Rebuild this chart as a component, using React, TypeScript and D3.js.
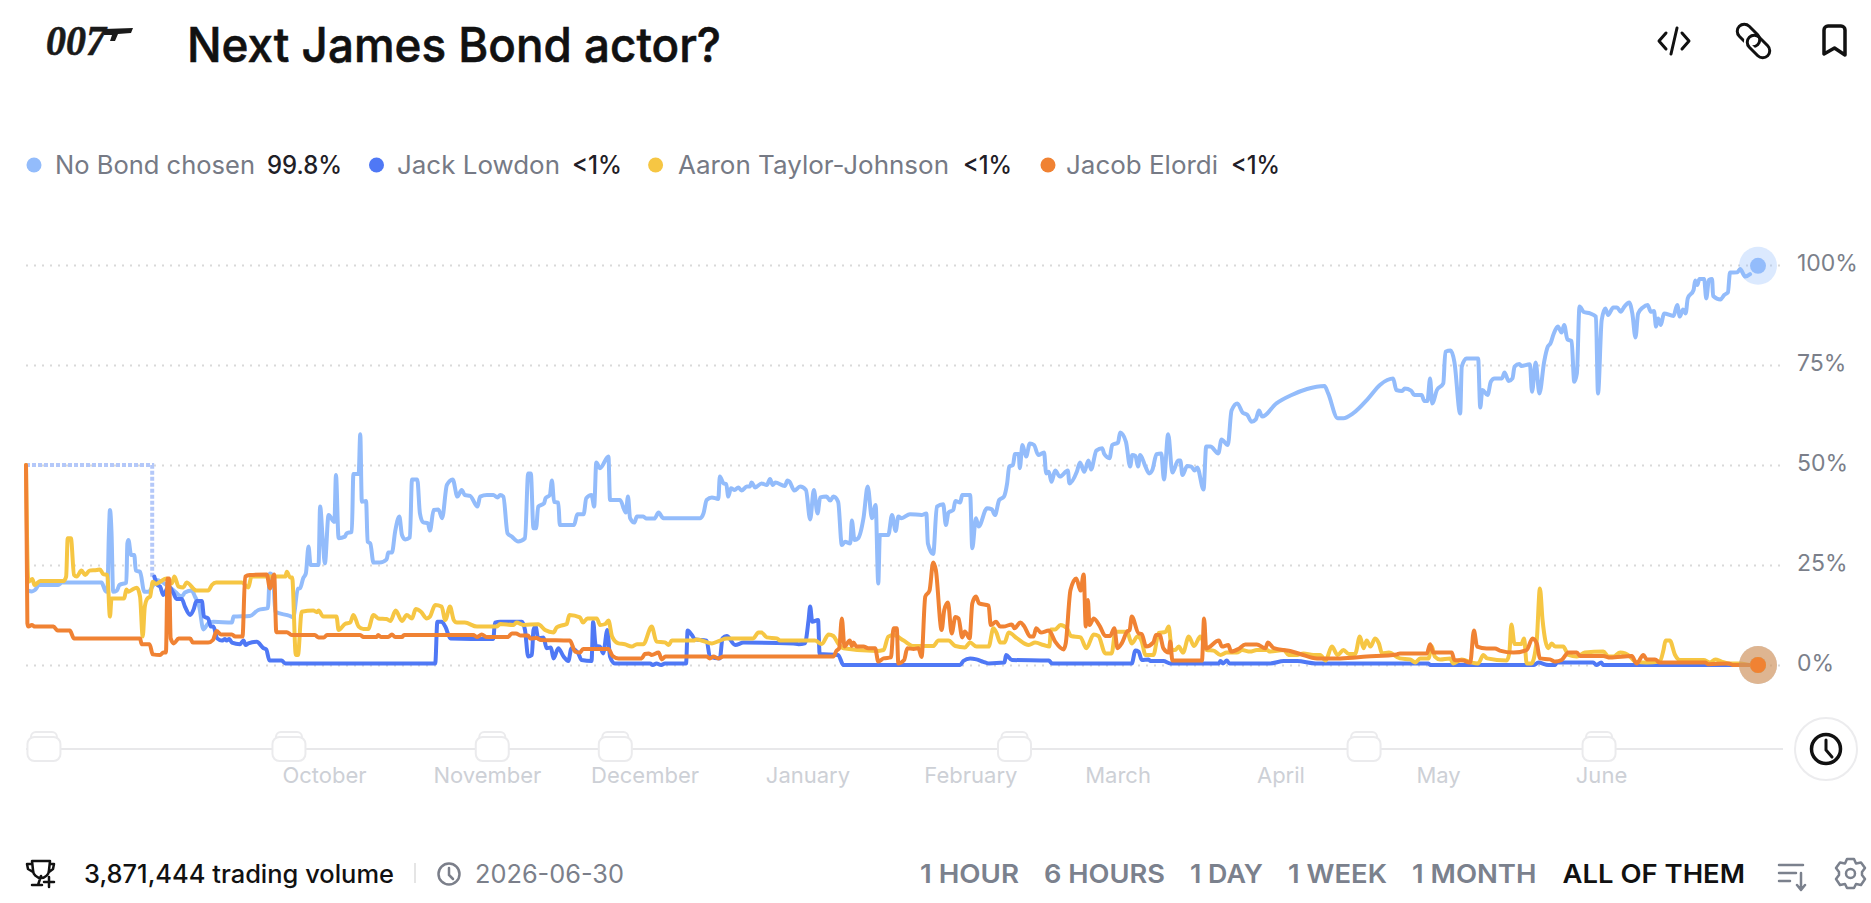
import React, { useEffect, useRef } from 'react';
import * as d3 from 'd3';

const width = 1871;
const height = 903;
const margin = { left: 26, right: 113, top: 265, bottom: 238 };

// [days since 2025-08-06, percent]
const noBondChosen = [
  [0.4, 18.6], [1.1, 18.4], [1.7, 18.75], [2.5, 20], [6.1, 20], [6.8, 20.6], [14.3, 20.6], [15, 18.6], [15.4, 18.3], [15.7, 32.9], [15.9, 38.75], [16.2, 32.9], [16.5, 18.3], [17.2, 18.6], [17.7, 20], [19, 20.6], [19.2, 30.4], [19.4, 31.25], [19.9, 27.5], [20.5, 27.5], [20.8, 23.6], [21.6, 23.3], [22.4, 18.3], [23.2, 18.3], [24.1, 20], [24.8, 21.25], [25.7, 20.8], [26.6, 20], [27.9, 18.75], [29.5, 17.1], [30.1, 18.1], [31.4, 18.6], [32, 17.1], [32.8, 14.6], [33.6, 8.9], [34.5, 10.4], [35.5, 10.8], [39, 10.6], [39.3, 12.1], [42.4, 12.25], [44, 13.75], [45.8, 14.2], [46.2, 22.9], [46.8, 22.1], [47.2, 13.3], [50, 12.25], [50.6, 11.9], [51.5, 19.1], [51.9, 19.2], [52.5, 21.7], [53, 22.9], [53.5, 29.6], [53.9, 25], [55.4, 25], [55.7, 39.6], [56.2, 31.25], [56.6, 25.4], [57.3, 37.5], [58.4, 35.8], [58.7, 47.5], [59.2, 31.7], [60.4, 32.1], [60.7, 32.9], [61.7, 33.3], [62, 47.75], [63, 47.75], [63.3, 57.7], [63.6, 40.8], [64.4, 41], [64.7, 30.8], [65.2, 30.4], [65.8, 25.6], [67, 25.6], [68.3, 26.4], [68.6, 28.1], [69.3, 28.1], [69.9, 33.3], [70.7, 37.1], [71.2, 32.5], [71.8, 31.4], [72.7, 31.9], [73.1, 46.4], [74.1, 46.4], [74.6, 37.9], [75.2, 35.7], [76.1, 35.4], [76.5, 33.6], [77.2, 38.75], [78.1, 38.9], [78.8, 36.7], [79.7, 45], [80.8, 46.4], [81.7, 42.1], [82.5, 43.75], [83.1, 42.5], [84.1, 42.3], [85.5, 39.6], [86, 42.1], [87.3, 42.5], [88.5, 42.5], [89.3, 41.9],
  [89.8, 42.5], [90.4, 42.1], [91.2, 32.9], [92, 32.1], [93.2, 30.9], [94.5, 31.7], [95.1, 47.9], [95.6, 47.9], [96.1, 34.2], [96.6, 34.2], [97, 39.6], [98.1, 40.4], [98.4, 41.7], [99.2, 42.5], [99.6, 46.1], [100, 40.8], [100.8, 40.6], [101.1, 35], [103.8, 35], [104.4, 37.7], [105.6, 37.7], [106.1, 41.7], [107.1, 42.5], [107.6, 39.6], [108, 50.6], [108.7, 49.2], [110.3, 52.1], [110.6, 41.25], [112.5, 41.25], [113.6, 38.1], [114, 42.1], [114.4, 36.7], [115.2, 35.6], [115.7, 37.1], [116.9, 37.1], [117.5, 36.6], [119, 36.6], [119.8, 38.1], [120.7, 36.7], [127.7, 36.7], [128.3, 37.9], [128.9, 41.25], [129.9, 41.9], [131.1, 41.5], [131.4, 47.1], [132.1, 45.4], [132.6, 45.25], [133, 42.1], [133.5, 44.2], [134.2, 43.75], [134.9, 44.4], [135.5, 43.6], [136.5, 44.6], [137.1, 44.6], [137.4, 45.6], [138.1, 44.4], [139.3, 45.4], [140.3, 45], [140.9, 46.5], [141.4, 45], [141.9, 45.6], [143.7, 44.75], [144.2, 46.1], [144.6, 45.8], [145.5, 43.6], [146.6, 44.6], [147.7, 43.75], [148.5, 36.4], [149.2, 43.75], [149.9, 37.9], [150.4, 41.9], [151.6, 42.1], [152.3, 41.1], [152.9, 42.1], [153.8, 40.8], [154.5, 30], [155.1, 30.8], [156.1, 30.4], [156.4, 36.1], [156.9, 31.25], [157.6, 31.7], [158.6, 36.7], [159.4, 44.6], [160.2, 36.7], [160.9, 40], [161.4, 20.4], [161.7, 32.5], [163.3, 32.5], [164, 37.5], [164.7, 33.5], [165.2, 37.1], [165.8, 36.7], [167.4, 37.7], [169.6, 37.5], [170.5, 37.9], [170.8, 30.4], [171.8, 27.75], [172.5, 39.6], [173.7, 40.2], [174.2, 35], [174.7, 38.1], [175.6, 38.75], [176, 41], [176.9, 40.6], [177.3, 42.5], [178.8, 42.5], [179.2, 29.2], [179.9, 36.7], [180.4, 34.6], [182, 39.2], [182.9, 38.9], [183.5, 37.5], [184.3, 41.25],
  [185.2, 42.1], [185.8, 45.4], [186.2, 49.6], [186.9, 50], [187.3, 52.75], [188, 52.75], [188.2, 49.2], [188.7, 55], [189.4, 52.1], [190.1, 55.4], [190.9, 55], [191.7, 52.5], [192.8, 53.1], [193.2, 47.9], [193.7, 48.3], [194.2, 45.8], [194.9, 48.6], [195.8, 47.1], [197.3, 48.6], [197.6, 45.4], [199, 48.3], [199.6, 50.6], [200.4, 48.3], [201.2, 51.1], [201.7, 48.9], [202.7, 53.6], [203.8, 54.2], [204.2, 52.75], [205.2, 51.7], [205.7, 55], [206.8, 55.6], [207.2, 58.1], [208.3, 55.8], [209.1, 49.6], [209.5, 52.5], [210.1, 52.25], [210.6, 49.6], [211, 52.5], [212, 49.6], [212.7, 47.9], [213.3, 48.75], [214.1, 52.7], [215, 52.9], [215.5, 46.4], [216.3, 57.7], [217.1, 48.1], [218.2, 51.1], [218.6, 51.1], [219, 47.5], [219.9, 49.75], [220.7, 49.6], [221.3, 48.6], [221.8, 49.4], [223, 43.9], [223.5, 54.6], [224.3, 54.6], [225.8, 52.9], [226.4, 56.4], [227.6, 55], [228.3, 63.6], [229.4, 65.4], [230.4, 63.1], [231.3, 62.5], [232.1, 60.8], [232.9, 61.4], [233.5, 63.6], [234.1, 62.1],
  [236.8, 65.4], [239.7, 67.5], [242.6, 69], [245.9, 69.75], [246.6, 67.9], [248.4, 61.7], [249.5, 61.7], [251.3, 62.9], [254.2, 66.65], [256.4, 70], [257.8, 71.25], [258.9, 71.65], [259.5, 68.75], [260.6, 68.5], [261.1, 69.1], [262.3, 68.6], [262.9, 67.5], [264.3, 67.5], [264.8, 66], [265.4, 66], [265.9, 71.65], [266.3, 65.4], [267.2, 68.75], [268.4, 70.4], [268.8, 78.3], [269.8, 78.6], [270.5, 75.8], [271.6, 62.9], [271.9, 74.6], [272.8, 76.65], [275, 76.65], [275.4, 64.4], [275.8, 68.75], [276.8, 67.5], [277.4, 70.8], [278.1, 71.65], [279.5, 71.65], [280, 73.1], [280.8, 71], [281.5, 71.65], [281.9, 74.6], [282.8, 75.25], [283.2, 74.75], [284.8, 75.2], [285.2, 68.3], [285.9, 75.6], [286.6, 67.9], [287.5, 75.8], [288.2, 79.6], [288.7, 80.4], [289.3, 82.75], [290.1, 84.6], [290.8, 83.1], [291.3, 85], [291.9, 81.4], [292.7, 81], [293.2, 70.8], [293.7, 72.9], [294.2, 89.6], [295, 88.25], [296.2, 87.9], [297.3, 87.1], [297.7, 67.9], [298.4, 86.25], [299.1, 89.15], [299.6, 87.5], [300.6, 89.4], [301.3, 89.4], [302, 88.3], [302.7, 89.6], [303.6, 90.6], [304.2, 87.9], [304.8, 81.9], [305.3, 87.9], [306.2, 89.4], [307.1, 90], [307.7, 88.3], [308.3, 88.5], [308.7, 84.6], [309.1, 86.65], [309.6, 85], [310.2, 87.9], [312, 87.25], [312.7, 90], [313.2, 87.1], [313.8, 88.9], [314.3, 87.9], [314.7, 91.65], [315.8, 93.75], [316.1, 96.1], [316.5, 95], [316.9, 96.5], [317.8, 96.5], [318.2, 91.65], [318.7, 96.25], [319.3, 96.5], [319.5, 92.25], [320.9, 91.4], [321.6, 92.5], [322.3, 93.15], [322.7, 98.1], [324.1, 98.2], [324.6, 99], [325.6, 97.1], [326.5, 97.7],
];

const jackLowdon = [
  [24.3, 22.1], [24.9, 20], [25.4, 19.6], [26, 17.5], [27, 19.6], [27.9, 18], [28.5, 16.5], [29.5, 16.5], [30.1, 14.6], [31.1, 12.5], [31.7, 13.75], [32.3, 16], [33.3, 16], [33.7, 12.1], [34.5, 11.65], [35, 9.6], [35.5, 9.6], [36.2, 6.65], [37.1, 6.1], [37.7, 6.5], [38, 6.1], [38.5, 6.5], [39, 5.6], [40.5, 5.2], [41.2, 6.1], [41.6, 5], [42.1, 5.4], [43.7, 5.8], [45, 4.2], [45.5, 3.9], [46.1, 1.1], [48.4, 1.1], [49.1, 0.4], [77.5, 0.4], [77.9, 10.8], [78.7, 10.8], [79.4, 9.6], [80.4, 6.65], [88.5, 6.5], [88.8, 10.6], [89.8, 10.8],
  [93.9, 10.8], [94.5, 8.75], [95.1, 2.1], [95.8, 2.5], [96.1, 8.75], [96.5, 9.6], [97, 6.65], [98, 6.9], [98.6, 4.2], [99.4, 4.4], [99.9, 1.65], [100.8, 4.2], [101.8, 2.1], [102.7, 1], [103.3, 4.2], [104, 3.75], [104.6, 2.9], [105.2, 1.25], [107.1, 1], [107.4, 10.8], [107.9, 4.8], [108.7, 4.6], [109.3, 2.9], [110.1, 8.75], [110.6, 2.1], [111.5, 0.4], [118.2, 0.4], [118.7, 0], [119.4, 0.4], [120.3, 0], [121, 0.4], [125, 0.4], [125.3, 8.6], [126.1, 7.5], [126.7, 6.4], [128.9, 6.1], [129.5, 2.1], [131.4, 1.65], [131.9, 6.65], [132.7, 7.25], [134.3, 5], [135.9, 5.6], [145.3, 5.4], [146.3, 5.2], [147.5, 5.4], [148.2, 11.25], [148.5, 14.6], [148.9, 10.8], [150, 11.25], [150.3, 2.75], [153.8, 2.5], [154.8, 0], [176.9, 0], [177.5, 1], [178.8, 1.65], [180, 1.4], [181.3, 0.8], [182.3, 0.4],
  [185.3, 0.6], [185.6, 2.5], [186.7, 1.25], [193.7, 1.1], [194.3, 0.4], [209.4, 0.4], [210.1, 3.6], [210.7, 3.35], [211.3, 1.25], [212.6, 1.4], [212.9, 1], [215.4, 1], [216.7, 0.4], [225.9, 0.4], [226.2, 1], [226.7, 0.4], [227.4, 1.1], [227.9, 0.4], [235.6, 0.4], [238.2, 1], [240.7, 1], [244.2, 0.4], [265.6, 0.4], [265.9, 0], [285.5, 0], [286.4, 0.6], [288.3, 0], [289.6, 0], [289.9, 0.6], [296.8, 0.6], [297.4, 0], [298.3, 0.6], [298.7, 0], [328, 0],
];

const aaronTaylorJohnson = [
  [0, 50], [0.45, 20.8], [1.2, 21.5], [1.6, 20], [2.7, 21], [7.1, 21], [7.6, 22.1], [7.9, 31.7], [8.5, 31.7], [9.1, 22.5], [9.6, 22.1], [10.5, 23.6], [11.2, 22.5], [12, 23.6], [13.4, 23.75], [14, 23.9], [14.6, 22.75], [15.4, 22.5], [15.9, 12.1], [16.2, 16.65], [18.6, 16.65], [19, 18.9], [19.4, 18.3], [20, 18.75], [21, 19.3], [21.6, 17.1], [22.1, 7.1], [22.5, 14.6], [23, 16.65], [23.5, 17.1], [24, 20.8], [24.6, 20.25], [25.4, 20.8], [26.6, 21.65], [27.6, 20.4], [28.1, 22.1], [28.9, 19.6], [29.8, 19.4], [30.4, 20.6], [32.3, 18.6], [34.5, 18.6], [35.2, 20], [36, 20.6], [40.9, 20.6], [42.1, 19.4], [42.7, 22.1], [49.1, 22.1], [49.4, 23.3], [50, 21.9], [50.4, 21.9], [51.1, 2.5], [51.5, 2.5], [52.2, 13.3], [54.4, 13.6], [55.1, 13.2], [55.4, 13.6], [56.3, 12.1], [58.8, 12.1], [59.2, 8.75], [60.4, 10.25], [61.4, 10.6], [62, 12.5], [63, 9.6], [63.9, 9], [64.8, 9], [65.8, 12.5], [66.7, 11.65], [68.3, 11.5], [69, 11], [70, 13.6], [71.2, 11], [72.1, 12.5], [73.1, 11.65], [73.8, 14], [74.8, 13.3], [75.9, 11.65], [76.5, 12.1], [77.5, 15], [78.7, 14.6], [79.4, 11.25], [80.3, 14.6], [81, 11.25], [81.6, 10.6], [83.1, 10.6], [85.4, 9.6], [89.1, 9.6],
  [89.8, 10.25], [92.3, 10], [92.9, 10.6], [94.2, 10], [97, 10.2], [98.3, 8.75], [99.9, 8.15], [100.5, 9.4], [101.8, 10], [102.4, 10.25], [102.9, 12.5], [104.9, 11.9], [105.5, 10.6], [106.3, 11.65], [108.1, 11.65], [108.7, 10], [109.7, 10.25], [110.3, 11.1], [111, 7.1], [112.2, 5.4], [113.4, 5.2], [114.7, 4.6], [115.7, 5.2], [116.9, 5.2], [118.5, 9.6], [119.4, 5.85], [121, 5.65], [121.7, 5], [122.3, 6.1], [126.4, 6.1], [127, 6.4], [129.9, 5.4], [131.4, 6.1], [132.7, 6.65], [137.7, 6.65], [138.7, 8.1], [139.3, 8.1], [140.3, 6.9], [142.2, 6.65], [142.8, 6.1], [149.4, 6.1], [150.7, 5.25], [152, 7.65], [152.9, 7.25], [153.8, 5.4], [154.8, 4.2], [161.1, 3.5], [162.4, 3.75], [163.3, 7.1], [164.3, 7.5], [166.2, 6.1], [168.1, 4.75], [171.8, 4.75], [172.8, 6.1], [174.7, 6.1], [176, 4.75], [177.8, 4.4], [178.8, 5.6], [180, 4.6], [182.3, 4.6], [183.2, 9.2], [183.8, 8],
  [184.5, 5.6], [185.3, 5.6], [186.1, 8.1], [187.7, 6.65], [189.9, 5], [191.1, 5.6], [192.7, 5], [193.8, 4.6], [194.1, 8.9], [194.9, 8.9], [195.9, 10], [197.1, 9.2], [197.9, 7.25], [199.7, 6.9], [200.8, 4.2], [202.2, 7.65], [203.1, 7.25], [204.4, 2.9], [205.6, 2.9], [206.3, 8.3], [208.5, 8.3], [209.4, 5.4], [210.5, 7.1], [211.3, 5.85], [212, 2.5], [213.5, 2.5], [214.5, 8], [215.8, 8.3], [216.4, 9.6], [217, 3.75], [217.6, 3.75], [218.3, 4.6], [219.1, 3.1], [220.2, 7.1], [221.2, 4.75], [222.4, 7.1], [223.6, 3.75], [224.9, 3.6], [226.2, 2.5], [227.4, 3.1], [229.3, 3.1], [230.3, 3.75], [231.8, 3.35], [233.1, 3.75], [235, 3.75], [235.6, 3.35], [238.2, 3.75], [239.1, 2.5], [240.7, 2.5], [241.9, 2.9], [243.8, 2.5], [245.1, 2.5], [246.1, 1.1], [247.3, 4.6], [248.4, 2.5], [249.5, 3.75], [250.5, 2.75], [251.7, 2.75], [252.6, 7.1], [253.3, 4.2], [253.9, 6.1], [254.6, 4.6], [255.5, 6.65], [256.2, 5.4], [256.8, 2.9], [258.1, 3.1], [260.2, 1.65],
  [262.1, 1.4], [263.1, 0.65], [264, 1.65], [265.6, 1.65], [266.2, 4.75], [266.8, 2.1], [267.8, 1.4], [269.7, 1.65], [270.3, 0.4], [271.9, 1.4], [273.8, 0.6], [275, 0.4], [276, 2.5], [276.7, 1.65], [280.4, 1.1], [280.9, 2.9], [281.3, 10.15], [281.9, 5.25], [283.2, 5.25], [283.7, 6.65], [284.2, 0.4], [285.1, 0.4], [286.1, 6.25], [286.7, 19.15], [287.2, 11.25], [288.3, 4.2], [288.9, 5.4], [289.6, 4.6], [291.1, 4.6], [292.1, 2.5], [293.7, 2.1], [295.2, 3.1], [298.7, 3.4], [299.7, 2.1], [300.6, 2.1], [301.9, 3.1], [303.8, 2.1], [304.7, 0.85], [306.9, 0.6], [309.4, 0.85], [310.1, 3.75], [310.5, 6.1], [311.3, 6.1], [312.3, 2.5], [313.2, 1.25], [317.7, 1.25], [318.9, 0.65], [319.9, 1.4], [321.1, 0.85], [322.4, 0.4], [324.6, 0.4], [326.5, 0], [328, 0],
];

const jacobElordi = [
  [0, 50], [0.26, 10.4], [0.45, 9.6], [1.1, 10], [1.7, 9.6], [5.2, 9.6], [6, 8.6], [8.3, 8.6], [9.1, 6.6], [21.6, 6.6], [21.9, 5.2], [23.4, 5.2], [24, 2.65], [25.4, 2.5], [26, 3.1], [26.5, 3.1], [26.8, 21.65], [27.1, 21.65], [27.4, 6.65], [28, 5.4], [28.9, 6.6], [31.1, 6.6], [31.6, 5.6], [34.5, 5.6], [35.4, 6.25], [36.1, 8.5], [36.9, 7.65], [39, 7.65], [39.6, 7.1], [41, 7.1], [41.5, 22.1], [42.4, 22.5], [45.6, 22.65], [46.2, 19.15], [47, 22.65], [47.4, 8.2], [49.4, 8.2], [50.3, 7.5], [54.7, 7.5], [55.4, 6.9], [56.4, 6.9], [57, 7.5], [63.3, 7.5], [63.9, 7], [66.4, 7], [66.7, 7.5], [67.2, 7], [68.6, 7], [69.3, 7.6], [69.9, 7], [71.2, 7], [71.6, 7.5], [84.7, 7.5], [85.4, 7], [86.3, 7.6], [87.3, 7],
  [91.3, 7], [92, 7.9], [92.8, 7.9], [93.6, 7.4], [95.1, 7.4], [95.5, 6.6], [96.7, 6.75], [97.5, 6.25], [103, 6.1], [104, 3.35], [104.9, 3.1], [105.5, 4], [110.3, 4], [111.1, 2.25], [112.2, 1.65], [116.6, 1.65], [117.2, 2.75], [117.9, 2.9], [118.5, 2.5], [119.8, 3.1], [120.4, 1.4], [121.1, 2.1], [128.9, 2.1], [129.5, 1.65], [130.2, 2.1], [131.1, 1.65], [132.1, 2.1], [152.9, 2.1], [153.5, 3.6], [154, 4.2], [154.5, 11.65], [155, 4.6], [156, 6.1], [156.4, 4.75], [156.7, 5.6], [157.3, 4.6], [158.6, 4.6], [159.5, 4.2], [160.8, 4.2], [161.4, 0.85], [162.4, 1.65], [163.8, 1.9], [164.3, 9.2], [164.9, 9.2], [165.2, 0.4], [166.3, 1.25], [166.9, 4.2], [168.1, 4], [169, 4.2], [169.6, 2], [170.3, 17.1], [171.1, 18.6], [171.8, 25.65], [172.3, 23.75], [173.4, 8.75], [173.9, 13.75], [174.6, 15.6], [175.3, 7.9], [176, 12], [176.6, 11.65], [177.3, 6.9], [177.8, 8.35], [178.7, 6.65], [179.2, 15.4], [179.9, 17.1], [180.5, 15.4], [182.3, 14.85], [182.7, 10], [183.7, 10.8],
  [184.5, 9.6], [185.1, 9.6], [186.7, 10.15], [187.2, 9.2], [188.3, 10.65], [189, 9.75], [190.2, 7.1], [190.8, 7.1], [191.3, 9.2], [192.2, 8.1], [193.7, 8.6], [194.9, 5.85], [196.5, 3.9], [196.9, 5.4], [197.8, 18.75], [198.9, 21.65], [199.7, 18.6], [200.3, 22.65], [200.7, 9.6], [201.1, 16.25], [201.4, 10], [202.2, 11.65], [203.4, 9.6], [204.4, 7.25], [205.3, 7.25], [206.1, 9.2], [206.7, 4.2], [207.5, 5.4], [208.5, 8.3], [209, 8.75], [209.4, 12.1], [210.7, 7.9], [211.3, 7.75], [212.1, 4.6], [213.5, 5.65], [214, 7.5], [214.7, 7.5], [215.4, 4.15], [216.4, 3.1], [216.7, 5.85], [217.1, 1.1], [222.7, 1.1], [223.1, 11.65], [223.5, 4.15], [225.9, 6.1], [226.5, 4.6], [227.7, 5], [228.2, 3.35], [229.6, 4], [230.9, 5.15], [233.1, 5.15], [234.7, 4.2], [235.2, 5.6], [236.3, 4.2], [239.4, 3.5], [241.3, 2.75], [244.5, 1.65], [248.9, 1.65], [253.9, 2.1], [259.6, 2.65],
  [260.2, 2.9], [265.3, 2.9], [265.9, 5.2], [266.5, 3.1], [270, 3.1], [270.5, 1.25], [272.2, 1.1], [273.5, 0.6], [274.2, 8.6], [274.8, 4.6], [276.6, 4.15], [278.2, 4.15], [279.1, 3.6], [281.7, 3.1], [284.2, 3.75], [285.3, 6.65], [286.1, 5.4], [286.7, 1.65], [288.6, 1.4], [289.6, 0.85], [290.8, 1.25], [292.1, 3.1], [293.7, 3.1], [294.3, 2.25], [298.7, 2.25], [300, 1.85], [304.1, 2.25], [305, 0.4], [306.3, 2.5], [306.9, 1.4], [308.5, 1.4], [309.4, 0.6], [318, 0.6], [318.6, 0.2], [322.4, 0.4], [323.3, 0], [328, 0],
];

// dashed opening stretch before trading starts
const openingStretch = [[0, 50], [23.9, 50], [23.9, 22]];

const seriesNames = ['No Bond chosen', 'Jack Lowdon', 'Aaron Taylor-Johnson', 'Jacob Elordi'];
const seriesLabels = ['99.8%', '<1%', '<1%', '<1%'];
const seriesLast = [99.8, 0, 0, 0];
const seriesColors = ['#93bcfb', '#4f78f5', '#f6c643', '#f08233'];
const seriesData = [noBondChosen, jackLowdon, aaronTaylorJohnson, jacobElordi];

const yTicks = [0, 25, 50, 75, 100];
const monthStarts = [
  new Date(Date.UTC(2025, 9, 1)), new Date(Date.UTC(2025, 10, 1)), new Date(Date.UTC(2025, 11, 1)),
  new Date(Date.UTC(2026, 0, 1)), new Date(Date.UTC(2026, 1, 1)), new Date(Date.UTC(2026, 2, 1)),
  new Date(Date.UTC(2026, 3, 1)), new Date(Date.UTC(2026, 4, 1)), new Date(Date.UTC(2026, 5, 1)),
];
const eventDays = [3.4, 49.8, 88.3, 111.6, 187.2, 253.4, 297.9];
const startTime = Date.UTC(2025, 7, 6);
const dayToDate = (d: number) => new Date(startTime + d * 864e5);

// spots in the legend row
const legendDots = [34, 376.5, 655.6, 1048];
const legendNames = [[55, 200], [397, 163], [678, 271], [1066, 152]];
const legendValues = [[267, 75], [572, 50], [963, 49], [1231, 49]];

const rangeButtons = [
  ['1 HOUR', 920, 99], ['6 HOURS', 1044, 121], ['1 DAY', 1190, 73],
  ['1 WEEK', 1288, 99], ['1 MONTH', 1412, 124.5], ['ALL OF THEM', 1562.5, 182.5],
];

const font = 'Inter, "Noto Sans", sans-serif';

const Chart = () => {
  const container = useRef<SVGGElement>(null);

  useEffect(() => {
    if (!container.current) return;
    const ctr = d3.select(container.current);
    ctr.selectAll('*').remove();

    const xScale = d3.scaleUtc().domain([dayToDate(0), dayToDate(328)]).range([margin.left, width - margin.right]);
    const yScale = d3.scaleLinear().domain([0, 100]).range([height - margin.bottom, margin.top]);
    // the month labels sit on their own, slightly tighter band
    const monthScale = d3.scaleUtc().domain([monthStarts[0], monthStarts[8]]).range([324, 1601]);

    // grid + y labels
    const yAxis = d3.axisRight(yScale)
      .tickValues(yTicks)
      .tickSize(width - margin.right + 22 - margin.left)
      .tickFormat((d: any) => `${d}%`);
    const yGroup = ctr.append('g').attr('transform', `translate(${margin.left}, 0)`).call(yAxis);
    yGroup.select('.domain').remove();
    yGroup.selectAll('.tick line')
      .attr('stroke', '#d9d9d9')
      .attr('stroke-width', 2)
      .attr('stroke-dasharray', '2 6');
    yGroup.selectAll('.tick text')
      .attr('x', 1771)
      .attr('dy', '0.22em')
      .attr('fill', '#7b7f8a')
      .style('font-family', font)
      .style('font-size', '23px');

    // timeline
    ctr.append('line')
      .attr('x1', margin.left).attr('x2', 1783)
      .attr('y1', 749).attr('y2', 749)
      .attr('stroke', '#e8e8ea').attr('stroke-width', 2);

    const events = ctr.append('g').selectAll('g').data(eventDays).join('g')
      .attr('transform', (d: number) => `translate(${xScale(dayToDate(d))}, 0)`);
    events.append('rect')
      .attr('x', -13).attr('y', 732).attr('width', 26).attr('height', 14).attr('rx', 5)
      .attr('fill', '#fff').attr('stroke', '#ebebed').attr('stroke-width', 2);
    events.append('rect')
      .attr('x', -16.5).attr('y', 737).attr('width', 33).attr('height', 24).attr('rx', 7)
      .attr('fill', '#fff').attr('stroke', '#ebebed').attr('stroke-width', 2);

    const xAxis = d3.axisBottom(monthScale)
      .tickValues(monthStarts)
      .tickSize(0)
      .tickFormat((d: any) => d3.utcFormat('%B')(d));
    const xGroup = ctr.append('g').attr('transform', 'translate(0, 764)').call(xAxis);
    xGroup.select('.domain').remove();
    xGroup.selectAll('.tick text')
      .attr('fill', '#cdd0d6')
      .style('font-family', font)
      .style('font-size', '22px');

    // dashed opening
    ctr.append('path')
      .datum(openingStretch)
      .attr('d', d3.line().x((d: any) => xScale(dayToDate(d[0]))).y((d: any) => yScale(d[1])) as any)
      .attr('fill', 'none')
      .attr('stroke', '#b4c8f9')
      .attr('stroke-width', 4)
      .attr('stroke-dasharray', '4 2');

    const line = d3.line()
      .x((d: any) => xScale(dayToDate(d[0])))
      .y((d: any) => yScale(d[1]))
      .curve(d3.curveMonotoneX);

    ctr.append('g').selectAll('path').data(seriesData).join('path')
      .attr('d', (d: any) => line(d))
      .attr('fill', 'none')
      .attr('stroke', (_: any, i: number) => seriesColors[i])
      .attr('stroke-width', 4)
      .attr('stroke-linejoin', 'round')
      .attr('stroke-linecap', 'round');

    // end markers
    ctr.append('g').selectAll('circle').data(seriesLast).join('circle')
      .attr('cx', xScale(dayToDate(328)))
      .attr('cy', (d: number) => yScale(d))
      .attr('r', 19)
      .attr('fill', (_: any, i: number) => seriesColors[i])
      .attr('fill-opacity', 0.33);
    ctr.append('g').selectAll('circle').data(seriesLast).join('circle')
      .attr('cx', xScale(dayToDate(328)))
      .attr('cy', (d: number) => yScale(d))
      .attr('r', 8)
      .attr('fill', (_: any, i: number) => seriesColors[i]);
  }, []);

  return <g ref={container} />;
};

const App = () => (
  <svg width={width} height={height} style={{ position: 'absolute', left: 0, top: 0, display: 'block', background: '#fff' }} fontFamily={font}>
    {/* 007 logo */}
    <text x={46} y={55} fontFamily='"Liberation Serif", serif' fontStyle="italic" fontWeight={700} fontSize={42} fill="#1a1a1a" stroke="#1a1a1a" strokeWidth={0.6} textLength={60} lengthAdjust="spacingAndGlyphs">007</text>
    <path d="M104 29 L133 28 L131 33 L118 34 L115 41 L110 41 L112 35 L104 35 Z" fill="#1a1a1a" />

    <text x={187} y={62} fontSize={48} fontWeight={500} fill="#111" stroke="#111" strokeWidth={0.6} textLength={534} lengthAdjust="spacingAndGlyphs">Next James Bond actor?</text>

    {/* top right icons */}
    <g fill="none" stroke="#111" strokeWidth={3} strokeLinecap="round" strokeLinejoin="round">
      <path d="M1666 33 L1659 41 L1666 49 M1682 33 L1689 41 L1682 49 M1677 28 L1671 54" />
      <rect x={-13} y={-7} width={26} height={14} rx={7} transform="translate(1748.5 35.5) rotate(45)" />
      <rect x={-13} y={-7} width={26} height={14} rx={7} transform="translate(1758.5 46.5) rotate(45)" stroke="#fff" strokeWidth={7} strokeDasharray="14 60" strokeDashoffset={-42} />
      <rect x={-13} y={-7} width={26} height={14} rx={7} transform="translate(1758.5 46.5) rotate(45)" />
      <path d="M1824 54 L1824 30 A4 4 0 0 1 1828 26 L1841 26 A4 4 0 0 1 1845 30 L1845 55 L1834.5 48 Z" strokeWidth={3.5} />
    </g>

    {/* legend */}
    {seriesNames.map((name, i) => (
      <g key={name}>
        <circle cx={legendDots[i]} cy={165} r={7.5} fill={seriesColors[i]} />
        <text x={legendNames[i][0]} y={173.5} fontSize={25} fill="#767a85" textLength={legendNames[i][1]} lengthAdjust="spacingAndGlyphs">{name}</text>
        <text x={legendValues[i][0]} y={173.5} fontSize={25} fontWeight={500} fill="#1f2026" textLength={legendValues[i][1]} lengthAdjust="spacingAndGlyphs">{seriesLabels[i]}</text>
      </g>
    ))}

    <Chart />

    {/* clock button */}
    <circle cx={1826} cy={749} r={31} fill="#fff" stroke="#ececee" strokeWidth={2} />
    <circle cx={1826} cy={749} r={14.5} fill="none" stroke="#111" strokeWidth={3.5} />
    <path d="M1826 740 L1826 750 L1832 757" fill="none" stroke="#111" strokeWidth={3} strokeLinecap="round" />

    {/* footer */}
    <g fill="none" stroke="#111" strokeWidth={2.5} strokeLinecap="round" strokeLinejoin="round">
      <path d="M32 861 L50 861 L49 870 A8 8 0 0 1 33 870 Z M32 864 L27 864 L28 869 L33 872 M50 864 L54 864 L53 869 L49 872 M41 876 L38 885 M32 885 L42 885 M49 877 L49 887 M44 882 L54 882" />
    </g>
    <text x={84} y={883} fontSize={25} fontWeight={500} fill="#111" textLength={310} lengthAdjust="spacingAndGlyphs">3,871,444 trading volume</text>
    <line x1={415} x2={415} y1={863} y2={883} stroke="#e5e5e5" strokeWidth={2} />
    <circle cx={449} cy={874} r={10.5} fill="none" stroke="#7b7f8a" strokeWidth={2.5} />
    <path d="M449 868 L449 875 L453 879" fill="none" stroke="#7b7f8a" strokeWidth={2.5} strokeLinecap="round" />
    <text x={475} y={883} fontSize={25} fill="#7b7f8a" textLength={149} lengthAdjust="spacingAndGlyphs">2026-06-30</text>

    {rangeButtons.map(([label, x, w], i) => (
      <text key={label as string} x={x as number} y={882.5} fontSize={26} fontWeight={600} fill={i === 5 ? '#111' : '#7b818d'} textLength={w as number} lengthAdjust="spacingAndGlyphs">{label}</text>
    ))}

    {/* sort + gear icons */}
    <g fill="none" stroke="#7b818d" strokeWidth={2.5} strokeLinecap="round" strokeLinejoin="round">
      <path d="M1779 865 L1803 865 M1779 873 L1796 873 M1779 881 L1790 881 M1801 873 L1801 889 M1797 885 L1801 890 L1805 885" />
      <circle cx={1850.5} cy={873.5} r={4.5} />
      <path d="M1847 859 L1854 859 L1856 863.5 L1861 862.5 L1865 868 L1862 872 L1862 875 L1865 879 L1861 885 L1856 884 L1854 888 L1847 888 L1845 884 L1840 885 L1836 879 L1839 875 L1839 872 L1836 868 L1840 862.5 L1845 863.5 Z" />
    </g>
  </svg>
);

export default App;
